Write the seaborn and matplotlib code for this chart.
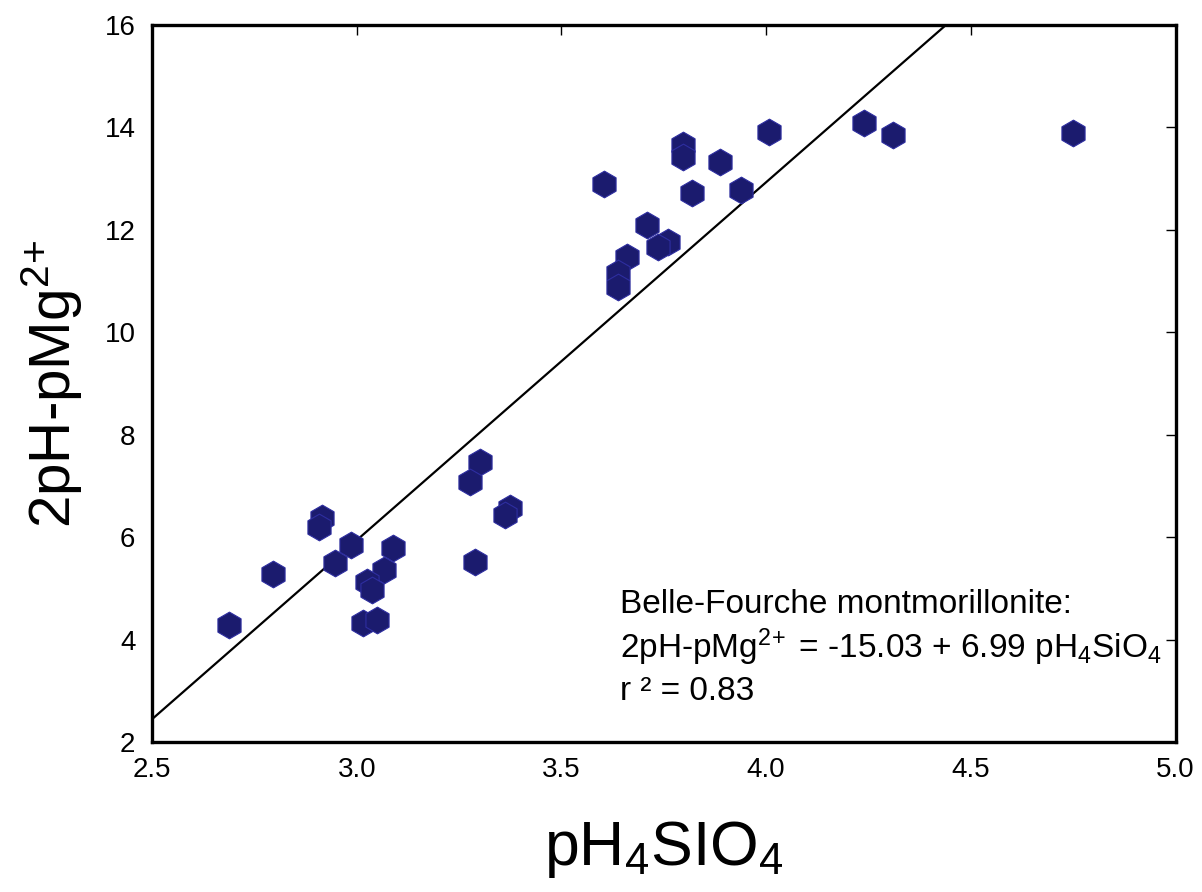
import numpy as np
import pandas as pd
import matplotlib
matplotlib.use("Agg")
import matplotlib.pyplot as plt
import seaborn as sns

# ---- data ----
ph4sio4 = [2.688, 2.795, 2.915, 2.908, 2.947, 2.986, 3.088, 3.066, 3.025, 3.037,
           3.015, 3.049, 3.289, 3.300, 3.276, 3.374, 3.362,
           3.603, 3.660, 3.638, 3.638, 3.708, 3.760, 3.735, 3.796, 3.796,
           3.818, 3.887, 3.938, 4.006, 4.238, 4.309, 4.749]
ph_pmg = [4.29, 5.28, 6.38, 6.20, 5.50, 5.85, 5.79, 5.36, 5.13, 4.97,
          4.32, 4.38, 5.52, 7.47, 7.08, 6.57, 6.43,
          12.90, 11.47, 11.16, 10.89, 12.10, 11.77, 11.67, 13.66, 13.43,
          12.72, 13.33, 12.78, 13.91, 14.09, 13.86, 13.89]
intercept = -15.03
slope = 6.99
x_ticks = [2.5, 3.0, 3.5, 4.0, 4.5, 5.0]
y_ticks = [2, 4, 6, 8, 10, 12, 14, 16]
annot_lines = ["Belle-Fourche montmorillonite:",
               "2pH-pMg$^{2\\!+}$ = -15.03 + 6.99 pH$_4$SiO$_4$",
               "r \u00b2 = 0.83"]

df = pd.DataFrame({"x": ph4sio4, "y": ph_pmg})

sns.set_style("white")
plt.rcParams["font.family"] = ["Liberation Sans", "DejaVu Sans"]
plt.rcParams["mathtext.fontset"] = "custom"
plt.rcParams["mathtext.rm"] = "Liberation Sans"
plt.rcParams["mathtext.it"] = "Liberation Sans"
plt.rcParams["mathtext.default"] = "regular"
plt.rcParams["text.color"] = "black"
plt.rcParams["axes.labelcolor"] = "black"

fig = plt.figure(figsize=(12.02, 8.92), dpi=100)
ax = fig.add_axes([0.1265, 0.1682, 0.978 - 0.1265, 0.972 - 0.1682])

sns.scatterplot(data=df, x="x", y="y", ax=ax, marker="h", s=370,
                color="#1b1b6e", edgecolor="#2e2ea0", linewidth=0.8, zorder=3)

xs = np.linspace(x_ticks[0], x_ticks[-1], 200)
ax.plot(xs, intercept + slope * xs, color="black", lw=1.6, zorder=2)

ax.set_xlim(x_ticks[0], x_ticks[-1])
ax.set_ylim(y_ticks[0], y_ticks[-1])
ax.set_xticks(x_ticks)
ax.set_xticklabels([f"{v:.1f}" for v in x_ticks])
ax.set_yticks(y_ticks)
ax.tick_params(direction="in", top=True, right=True, length=7, width=1.0,
               labelsize=20, colors="black")
ax.tick_params(axis="x", pad=11)
ax.tick_params(axis="y", pad=12)
for sp in ax.spines.values():
    sp.set_linewidth(2.4)
    sp.set_color("black")

ax.set_xlabel("pH$_4$SIO$_4$", fontsize=45, labelpad=26)
ax.set_ylabel("2pH-pMg$^{2\\!+}$", fontsize=42, labelpad=14)

annot_y = [4.68, 3.84, 2.98]
for t, yy in zip(annot_lines, annot_y):
    ax.text(3.643, yy, t, fontsize=24, ha="left", va="center")

fig.savefig("out.png", dpi=100, facecolor="white")
